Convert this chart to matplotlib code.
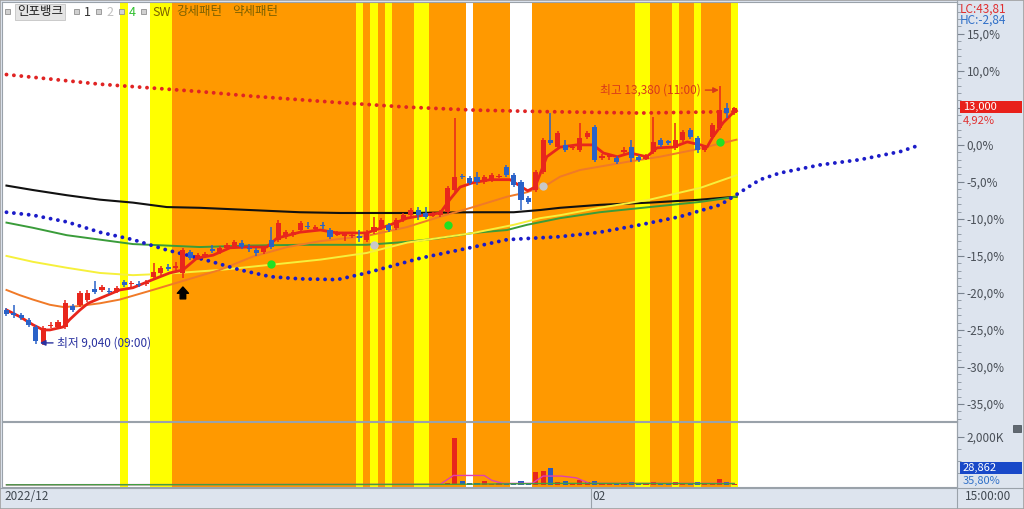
import matplotlib
matplotlib.use("Agg")
import matplotlib.pyplot as plt
import matplotlib.patches as pth
import matplotlib.transforms as mtr
from matplotlib.lines import Line2D
from matplotlib.ticker import FuncFormatter
import numpy as np

plt.rcParams["font.family"] = ["Noto Sans CJK KR", "DejaVu Sans"]

# ---- candles, % change vs. base price ----
open_ = [-22.3, -22.7, -23.0, -23.6, -24.6, -26.6, -24.5, -24.6, -24.6, -21.8,
         -21.6, -21.0, -19.5, -19.6, -19.7, -19.9, -18.5, -18.8, -18.8, -18.8,
         -17.8, -17.3, -16.5, -16.6, -17.3, -14.5, -15.3, -15.0, -14.1, -14.5,
         -13.9, -13.8, -13.2, -13.9, -14.2, -14.5, -12.8, -12.8, -12.4, -12.2,
         -11.5, -10.9, -11.4, -10.9, -11.5, -12.2, -12.3, -12.3, -12.3, -12.8,
         -11.8, -11.2, -10.8, -11.2, -10.1, -9.5, -8.8, -9.2, -9.6, -9.5,
         -9.1, -6.1, -4.2, -4.5, -4.3, -5.0, -4.7, -4.3, -3.0, -4.1,
         -5.0, -7.2, -6.1, -3.6, 0.7, -0.3, 0.0, -0.4, -0.7, 1.1,
         2.4, -1.8, -1.7, -1.8, -0.9, -0.3, -1.6, -1.9, -0.9, 0.7,
         0.5, -0.4, 0.7, 2.0, 0.9, -0.7, 1.1, 2.3, 5.0, 4.3]
high = [-22.0, -21.6, -22.7, -23.4, -24.3, -24.5, -23.9, -23.6, -21.0, -21.5,
        -19.7, -19.6, -18.4, -18.9, -19.3, -19.1, -18.2, -18.4, -18.4, -18.2,
        -15.9, -16.4, -16.1, -15.8, -13.9, -14.2, -14.6, -14.5, -13.5, -13.6,
        -13.2, -12.8, -12.8, -13.4, -13.9, -13.6, -11.1, -10.1, -11.5, -11.5,
        -10.3, -10.4, -10.8, -10.4, -11.2, -11.6, -11.8, -11.8, -11.5, -11.5,
        -9.7, -9.9, -10.5, -9.9, -9.2, -8.5, -8.4, -8.4, -9.1, -8.8,
        -5.5, 3.6, -3.9, -4.2, -3.6, -4.1, -3.8, -3.9, -2.7, -3.8,
        -4.7, -6.9, -3.4, 0.9, 4.3, 1.9, 0.7, -0.1, 3.0, 1.9,
        2.7, -1.2, -1.2, -1.5, -0.3, 0.7, -1.4, -1.2, 3.8, 0.9,
        0.7, 3.0, 2.0, 2.3, 1.2, 0.0, 3.0, 8.0, 5.7, 5.1]
low = [-23.1, -23.4, -23.6, -24.6, -26.9, -27.0, -24.7, -24.9, -24.9, -22.6,
       -21.9, -21.2, -20.1, -19.9, -20.1, -20.0, -19.2, -19.2, -19.2, -19.1,
       -18.1, -17.6, -17.0, -17.2, -18.0, -15.5, -15.5, -15.1, -14.6, -14.7,
       -14.2, -14.1, -14.1, -14.5, -15.0, -14.7, -14.1, -13.1, -12.7, -12.4,
       -11.8, -11.4, -11.6, -11.4, -12.7, -12.3, -13.0, -12.6, -13.1, -13.1,
       -12.0, -11.5, -11.8, -11.5, -10.4, -9.7, -10.1, -10.0, -9.7, -9.7,
       -9.3, -6.4, -4.6, -5.4, -5.4, -5.3, -5.0, -4.5, -4.3, -5.7,
       -8.8, -8.0, -6.4, -3.9, 0.0, -0.5, -0.9, -0.7, -0.9, 0.8,
       -2.3, -2.0, -2.0, -2.6, -1.2, -2.3, -2.3, -2.0, -1.2, -0.3,
       0.0, -0.7, 0.4, 0.8, -1.1, -0.9, 0.8, 2.0, 3.6, 4.1]
close = [-22.8, -23.0, -23.4, -24.3, -26.5, -24.7, -24.3, -23.9, -21.4, -22.3,
         -20.0, -20.0, -19.9, -19.2, -19.9, -19.3, -18.9, -18.8, -18.9, -18.6,
         -17.2, -16.6, -16.8, -16.4, -14.2, -15.3, -14.9, -14.7, -14.3, -13.9,
         -13.5, -13.1, -13.8, -14.1, -14.6, -13.9, -13.8, -10.5, -11.8, -11.8,
         -10.5, -11.1, -11.1, -11.0, -12.4, -11.9, -12.0, -12.2, -12.6, -11.8,
         -11.1, -10.1, -11.5, -10.1, -9.5, -8.8, -9.5, -9.7, -9.3, -9.1,
         -5.8, -4.3, -4.3, -5.1, -5.0, -4.3, -4.1, -4.2, -4.1, -5.4,
         -7.4, -7.7, -3.6, 0.7, 0.3, 1.6, -0.7, -0.3, 0.9, 1.6,
         -2.0, -1.5, -1.4, -2.3, -0.7, -1.8, -2.0, -1.5, 0.4, 0.0,
         0.3, 0.7, 1.8, 1.1, -0.7, -0.3, 2.7, 4.7, 4.3, 4.92]
# volume in K shares
volume = [8, 6, 5, 6, 12, 15, 5, 6, 14, 6,
          10, 8, 6, 5, 4, 6, 5, 4, 4, 4,
          60, 20, 8, 10, 40, 12, 8, 6, 6, 8,
          8, 10, 6, 5, 6, 6, 50, 60, 20, 12,
          45, 10, 8, 6, 10, 6, 6, 8, 12, 10,
          20, 15, 10, 15, 12, 15, 12, 10, 8, 10,
          80, 1950, 150, 90, 70, 170, 60, 90, 80, 100,
          150, 80, 540, 605, 700, 135, 160, 90, 220, 140,
          180, 70, 60, 80, 90, 120, 70, 60, 140, 80,
          60, 110, 100, 80, 110, 60, 100, 260, 120, 29]

# moving averages / indicator lines (bar index, %)
ma_red_x = [0, 1.8, 3.6, 5.0, 5.9, 7.7, 8.6, 10.0, 11.1, 15.4, 17.2, 19.9, 22.2, 24.0, 25.9, 28.1,
            30.4, 32.7, 35.4, 36.8, 39.9, 42.7, 45.0, 49.0, 52.2, 54.5, 56.7, 59.0, 60.3, 61.7,
            63.5, 65.8, 68.5, 70.1, 70.9, 71.9, 73.5, 75.3, 77.6, 79.8, 81.2, 83.1, 84.8, 87.1,
            88.5, 90.7, 92.6, 94.4, 95.3, 96.1, 97.5, 98.8, 99.3]
ma_red_y = [-22.3, -23.2, -24.3, -25.0, -25.0, -24.6, -23.6, -22.3, -21.4, -19.6, -19.3, -18.2,
            -17.3, -16.9, -15.3, -14.9, -13.9, -13.8, -13.8, -12.6, -11.8, -11.5, -11.9, -11.9,
            -10.8, -9.9, -9.5, -9.2, -7.4, -5.7, -5.1, -4.7, -4.7, -5.7, -6.2, -5.7, -1.6, -0.3,
            0.0, 0.0, -1.1, -1.6, -1.1, -1.6, -0.4, -0.3, 0.4, 0.0, -0.3, 1.1, 3.0, 4.3, 4.6]
ma_orange_x = [0, 1.8, 3.6, 5.9, 7.7, 9.6, 12.7, 15.4, 19.9, 24.6, 29.0, 33.5, 38.2, 42.7, 46.3,
               49.0, 54.5, 59.0, 63.5, 68.1, 70.8, 73.5, 75.3, 78.0, 84.4, 88.9, 93.4, 99.3]
ma_orange_y = [-19.6, -20.3, -20.9, -21.6, -21.9, -21.8, -21.4, -20.9, -19.6, -18.2, -16.9, -15.1,
               -13.8, -13.0, -12.6, -12.3, -11.1, -9.7, -8.4, -7.0, -6.4, -5.4, -4.3, -3.4, -2.3,
               -1.6, -0.7, 0.7]
ma_yellow_x = [0, 3.6, 8.2, 12.7, 17.2, 21.8, 29.0, 35.9, 42.7, 49.0, 54.5, 63.5, 69.0, 72.6,
               75.3, 80.7, 87.5, 94.4, 99.3]
ma_yellow_y = [-15.0, -15.8, -16.6, -17.3, -17.6, -17.4, -16.9, -16.2, -15.5, -14.6, -13.2, -11.9,
               -10.8, -9.9, -9.5, -8.5, -7.4, -5.8, -4.1]
ma_green_x = [0, 3.6, 8.2, 12.7, 17.2, 21.8, 26.3, 33.1, 39.9, 49.0, 54.5, 59.0, 63.5, 68.1, 70.8,
              75.3, 80.7, 87.5, 94.4, 99.3]
ma_green_y = [-10.5, -11.2, -12.2, -12.8, -13.4, -13.6, -13.8, -13.6, -13.5, -13.5, -13.1, -12.6,
              -11.9, -11.5, -10.8, -9.9, -9.1, -8.4, -7.7, -7.0]
ma_black_x = [0, 3.6, 8.2, 12.7, 17.2, 21.8, 26.3, 33.1, 39.9, 45.4, 54.5, 63.5, 69.0, 72.6, 75.3,
              80.7, 87.5, 94.4, 99.3]
ma_black_y = [-5.5, -6.1, -6.8, -7.4, -7.8, -8.4, -8.5, -8.8, -9.1, -9.2, -9.2, -9.1, -9.1, -8.8,
              -8.5, -8.1, -7.8, -7.4, -7.0]
lead_x = [0, 3.6, 8.2, 12.7, 17.2, 21.8, 24.6, 28.0, 31.8, 35.9, 39.9, 45.0, 49.0, 56.3, 63.5,
          68.1, 75.3, 80.7, 86.2, 91.6, 97.1, 99.8, 102.5, 105.2, 110.7, 116.1, 121.6, 124.0]
lead_y = [-9.1, -9.5, -10.4, -11.8, -12.8, -14.2, -14.9, -15.8, -16.9, -17.8, -18.1, -18.2, -17.3,
          -15.3, -13.8, -12.8, -12.4, -11.8, -10.8, -9.7, -8.1, -6.4, -4.7, -3.8, -2.7, -2.0,
          -0.9, -0.1]
resist_x = [0, 5.9, 12.7, 19.5, 26.3, 33.1, 39.9, 45.4, 54.5, 63.5, 72.6, 86.2, 99.3]
resist_y = [9.5, 8.9, 8.2, 7.7, 7.2, 6.6, 6.1, 5.7, 5.1, 4.7, 4.5, 4.3, 4.5]
vol_ma_x = [0, 59, 60.8, 65, 66, 67.5, 71.5, 73, 75.5, 77.5, 79.3, 99]
vol_ma_y = [15, 30, 400, 400, 200, 70, 70, 375, 375, 300, 70, 70]
vol_ma2_x = [0, 60, 75, 99]
vol_ma2_y = [10, 30, 70, 60]

# pattern signals (bar ranges)
orange_bands = [(23, 47), (49, 49), (51, 51), (53, 55), (58, 62), (64, 68), (72, 85),
                (88, 90), (92, 93), (95, 98)]
yellow_bands = [(16, 16), (20, 22), (48, 48), (50, 50), (52, 52), (56, 57), (86, 87),
                (91, 91), (94, 94), (99, 99)]
buy_arrow = (24, -20.0)
green_sig_x = [36, 60, 97]
green_sig_y = [-16.1, -10.8, 0.4]
grey_sig_x = [50, 73]
grey_sig_y = [-13.5, -5.5]

last_price = 13000
low_price, low_time = 9040, "09:00"
high_price, high_time = 13380, "11:00"
lc_value, hc_value = 43.81, -2.84
last_volume, vol_ratio = 28862, 35.80
date_ticks = [0, 80]
date_labels = ["2022/12", "02"]


def comma(v, d=2):
    return f"{v:.{d}f}".replace(".", ",")


def pct_label(v, p):
    # the 5% label sits under the current-price box, so it is not shown
    if abs(v - 5) < 0.01:
        return ""
    return comma(round(v, 1) + 0.0, 1) + "%"


W, H = 1024, 509
fig = plt.figure(figsize=(W / 100, H / 100), dpi=100, facecolor="#dde4ee")


def rect(x0, y0, x1, y1):
    return [x0 / W, 1 - y1 / H, (x1 - x0) / W, (y1 - y0) / H]


def fpos(x, y):
    return x / W, 1 - y / H


ax = fig.add_axes(rect(2, 2, 957, 421))
axv = fig.add_axes(rect(2, 422, 957, 487), sharex=ax)

for a in (ax, axv):
    a.set_facecolor("white")
    for s, e in orange_bands:
        a.axvspan(s - 0.5, e + 0.5, color="#ff9900", lw=0, zorder=0)
    for s, e in yellow_bands:
        a.axvspan(s - 0.5, e + 0.5, color="#ffff00", lw=0, zorder=0)
    for sp in a.spines.values():
        sp.set_color("#9aa2aa")
        sp.set_linewidth(0.8)
    a.tick_params(axis="x", bottom=False, labelbottom=False)

# indicator lines
ax.plot(ma_black_x, ma_black_y, color="#111111", lw=1.5, zorder=3)
ax.plot(ma_green_x, ma_green_y, color="#3a9c3a", lw=1.4, zorder=3)
ax.plot(ma_yellow_x, ma_yellow_y, color="#f6f03c", lw=1.4, zorder=3)
ax.plot(ma_orange_x, ma_orange_y, color="#f07a28", lw=1.4, zorder=3)
dots = dict(ls=(0, (0.01, 1.9)), dash_capstyle="round", lw=2.8, zorder=4)
ax.plot(lead_x, lead_y, color="#1c1cc8", **dots)
ax.plot(resist_x, resist_y, color="#e02424", **dots)
ax.plot(ma_red_x, ma_red_y, color="#e8261c", lw=2.0, zorder=4)

# candles
o, h, l, c = map(np.array, (open_, high, low, close))
idx = np.arange(len(c))
up = c >= o
col = np.where(up, "#e8261c", "#2a62c8")
ax.vlines(idx, l, h, colors=col, lw=1.1, zorder=5)
ax.bar(idx, np.maximum(np.abs(c - o), 0.14), bottom=np.minimum(o, c), width=0.7,
       color=col, lw=0, zorder=6)

# signals
ax.annotate("", xy=(buy_arrow[0], buy_arrow[1] + 0.8), xytext=(buy_arrow[0], buy_arrow[1] - 0.8),
            arrowprops=dict(arrowstyle="simple,head_length=0.45,head_width=0.8,tail_width=0.4",
                            fc="black", ec="black", shrinkA=0, shrinkB=0), zorder=7)
ax.plot(green_sig_x, green_sig_y, "o", ms=6, color="#22e022", mec="none", zorder=7)
ax.plot(grey_sig_x, grey_sig_y, "o", ms=6, color="#c8c8c8", mec="none", zorder=7)

# low / high annotations
lo_i = int(np.argmin(l))
ax.annotate(f"최저 {low_price:,} ({low_time})", xy=(lo_i - 0.45, l[lo_i] + 0.25),
            xytext=(lo_i + 1.9, l[lo_i] + 0.25), ha="left", va="center", color="#2a32a0",
            fontsize=8.5, zorder=8,
            arrowprops=dict(arrowstyle="-|>", color="#2a32a0", lw=1.0, shrinkA=1, shrinkB=0,
                            mutation_scale=8))
hi_i = int(np.argmax(h))
ax.annotate(f"최고 {high_price:,} ({high_time})", xy=(hi_i - 0.1, h[hi_i] - 0.6),
            xytext=(hi_i - 2.5, h[hi_i] - 0.6), ha="right", va="center", color="#d8381c",
            fontsize=8.5, zorder=8,
            arrowprops=dict(arrowstyle="-|>", color="#d8381c", lw=1.0, shrinkA=1, shrinkB=0,
                            mutation_scale=8))

# axes / ticks
ax.set_xlim(-0.61, 129.3)
ax.set_ylim(-37.3, 19.3)
ax.yaxis.tick_right()
ax.set_yticks(np.arange(-35, 16, 5))
ax.set_yticks(np.arange(-37, 20, 1), minor=True)
ax.yaxis.set_major_formatter(FuncFormatter(pct_label))
for a in (ax, axv):
    a.tick_params(axis="y", which="major", length=5, width=0.8, color="#7a8490",
                  labelcolor="#4a5058", labelsize=8.5, pad=2)
    a.tick_params(axis="y", which="minor", length=3, width=0.6, color="#8a94a0")

volc = np.where(up, "#e8261c", "#2a5cc0")
axv.bar(idx, volume, width=0.7, color=volc, lw=0, zorder=3)
axv.plot(vol_ma_x, vol_ma_y, color="#e040b0", lw=1, zorder=4)
axv.plot(vol_ma2_x, vol_ma2_y, color="#40a040", lw=1, zorder=4)
axv.set_ylim(-80, 2625)
axv.yaxis.tick_right()
axv.set_yticks([2000])
axv.set_yticklabels(["2,000K"])
axv.set_yticks([500, 1000, 1500], minor=True)

# right side labels
trb = mtr.blended_transform_factory(fig.transFigure, ax.transData)
fig.add_artist(pth.Rectangle((960 / W, c[-1] + 0.25 - 0.81), 62 / W, 1.62, transform=trb,
                             color="#e8201a", lw=0))
fig.text(963 / W, c[-1] + 0.25, f"{last_price:,}", transform=trb, color="white",
         fontsize=8, va="center", ha="left")
fig.text(963 / W, c[-1] - 1.75, comma(c[-1]) + "%", transform=trb, color="#e03030",
         fontsize=8, va="center", ha="left")
fig.text(*fpos(960, 9), f"LC:{comma(lc_value)}", color="#e03030", fontsize=8.5, va="center")
fig.text(*fpos(960, 20), f"HC:{comma(hc_value)}", color="#3070c8", fontsize=8.5, va="center")

fig.add_artist(pth.Rectangle(fpos(960, 474), 62 / W, 12 / H, transform=fig.transFigure,
                             color="#1848c8", lw=0))
fig.text(*fpos(963, 468), f"{last_volume:,}", color="white", fontsize=8, va="center")
fig.text(*fpos(963, 481), comma(vol_ratio) + "%", color="#3070c8", fontsize=8, va="center")
fig.add_artist(pth.Rectangle(fpos(1013, 432), 8 / W, 7 / H, transform=fig.transFigure,
                             fc="#606870", ec="#404850", lw=0.5))

# date strip
trd = mtr.blended_transform_factory(ax.transData, fig.transFigure)
for pos, lab in zip(date_ticks, date_labels):
    fig.text(pos - 0.3, 1 - 497 / H, lab, transform=trd, color="#404850", fontsize=8.5,
             va="center", ha="left")
    if pos > 0:
        fig.add_artist(Line2D([pos - 0.5] * 2, [0, 1 - 488 / H], transform=trd,
                              color="#9aa2aa", lw=0.8))
fig.text(*fpos(965, 497), "15:00:00", color="#404850", fontsize=8.5, va="center")
fig.add_artist(Line2D([0, 1], [1 - 488 / H] * 2, transform=fig.transFigure, color="#9aa2aa", lw=0.8))
fig.add_artist(Line2D([957 / W] * 2, [0, 1], transform=fig.transFigure, color="#9aa2aa", lw=0.8))
fig.add_artist(pth.Rectangle((0, 0), 1, 1, transform=fig.transFigure, fill=False,
                             ec="#a0a0a0", lw=1.2))

# legend row
for sx in (5, 74, 96, 119, 141):
    fig.add_artist(pth.Rectangle(fpos(sx, 14), 5 / W, 5 / H, transform=fig.transFigure,
                                 fc="#d0d0d0", ec="#909090", lw=0.6))
fig.text(*fpos(17, 12), "인포뱅크", fontsize=9, color="#202020", va="center",
         bbox=dict(boxstyle="square,pad=0.15", fc="#e4e4e4", ec="#c4c4c4", lw=0.6))
fig.text(*fpos(84, 12), "1", fontsize=9, color="#303030", va="center")
fig.text(*fpos(106, 12), "2", fontsize=9, color="#c0c0c0", va="center")
fig.text(*fpos(129, 12), "4", fontsize=9, color="#30c030", va="center")
fig.text(*fpos(152, 12), "SW", fontsize=9, color="#7a6000", va="center")
fig.text(*fpos(176, 12), "강세패턴", fontsize=9, color="#7a6000", va="center")
fig.text(*fpos(232, 12), "약세패턴", fontsize=9, color="#7a6000", va="center")

fig.savefig("out.png", dpi=100, facecolor=fig.get_facecolor())
